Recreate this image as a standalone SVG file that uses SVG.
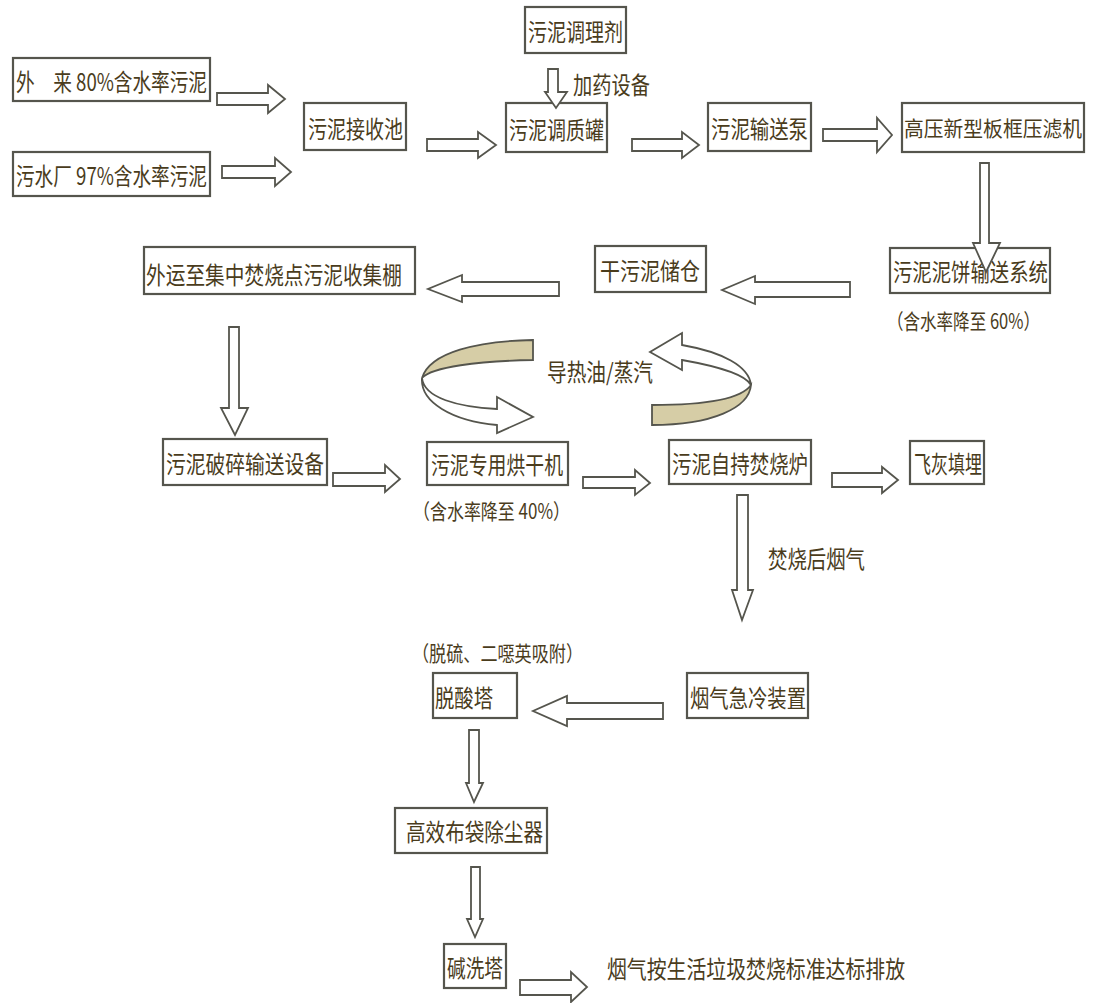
<svg xmlns="http://www.w3.org/2000/svg" width="1096" height="1003" viewBox="0 0 1096 1003">
<style>
.box{fill:#ffffff;stroke:#55554d;stroke-width:2.2}
.t{font-family:"Noto Sans CJK SC","Liberation Serif",serif;font-size:24px;fill:#4a3c1c;dominant-baseline:central}
.s{font-size:21px}
.arr{fill:#ffffff;stroke:#55554d;stroke-width:1.8;stroke-linejoin:miter}
.rib{fill:#d6cda6;stroke:#55554d;stroke-width:1.8}
</style>
<rect width="1096" height="1003" fill="#ffffff"/>
<g id="nodes">
<g id="n-wailai"><rect class="box" x="13" y="58" width="197" height="43"/><text class="t" x="16" y="80" textLength="191" lengthAdjust="spacingAndGlyphs">外　来 80%含水率污泥</text></g>
<g id="n-wushuichang"><rect class="box" x="13" y="152" width="197" height="44"/><text class="t" x="16" y="174" textLength="191" lengthAdjust="spacingAndGlyphs">污水厂 97%含水率污泥</text></g>
<g id="n-jieshouchi"><rect class="box" x="304" y="103" width="102" height="47"/><text class="t" x="308" y="127" textLength="95" lengthAdjust="spacingAndGlyphs">污泥接收池</text></g>
<g id="n-tiaoliji"><rect class="box" x="525" y="7" width="101" height="46"/><text class="t" x="528" y="30" textLength="95" lengthAdjust="spacingAndGlyphs">污泥调理剂</text></g>
<g id="n-tiaozhiguan"><rect class="box" x="506" y="103" width="101" height="49"/><text class="t" x="509" y="128" textLength="95" lengthAdjust="spacingAndGlyphs">污泥调质罐</text></g>
<g id="n-shusongbeng"><rect class="box" x="708" y="103" width="103" height="48"/><text class="t" x="711" y="127" textLength="97" lengthAdjust="spacingAndGlyphs">污泥输送泵</text></g>
<g id="n-yalvji"><rect class="box" x="902" y="103" width="182" height="49"/><text class="t s" x="904" y="127" textLength="178" lengthAdjust="spacingAndGlyphs">高压新型板框压滤机</text></g>
<g id="n-nibing"><rect class="box" x="890" y="248" width="160" height="45"/><text class="t" x="893" y="270" textLength="155" lengthAdjust="spacingAndGlyphs">污泥泥饼输送系统</text></g>
<g id="n-ganwunicang"><rect class="box" x="595" y="246" width="111" height="46"/><text class="t" x="600" y="269" textLength="100" lengthAdjust="spacingAndGlyphs">干污泥储仓</text></g>
<g id="n-shoujipeng"><rect class="box" x="144" y="247" width="271" height="47"/><text class="t" x="146" y="273" textLength="256" lengthAdjust="spacingAndGlyphs">外运至集中焚烧点污泥收集棚</text></g>
<g id="n-posui"><rect class="box" x="163" y="439" width="164" height="46"/><text class="t" x="166" y="462" textLength="158" lengthAdjust="spacingAndGlyphs">污泥破碎输送设备</text></g>
<g id="n-honggan"><rect class="box" x="427" y="442" width="141" height="43"/><text class="t" x="431" y="463" textLength="132" lengthAdjust="spacingAndGlyphs">污泥专用烘干机</text></g>
<g id="n-fenshaolu"><rect class="box" x="669" y="440" width="142" height="44"/><text class="t" x="672" y="462" textLength="136" lengthAdjust="spacingAndGlyphs">污泥自持焚烧炉</text></g>
<g id="n-feihui"><rect class="box" x="910" y="441" width="74" height="43"/><text class="t" x="914" y="462" textLength="68" lengthAdjust="spacingAndGlyphs">飞灰填埋</text></g>
<g id="n-jileng"><rect class="box" x="687" y="673" width="121" height="45"/><text class="t" x="690" y="696" textLength="116" lengthAdjust="spacingAndGlyphs">烟气急冷装置</text></g>
<g id="n-tuosuanta"><rect class="box" x="433" y="673" width="84" height="45"/><text class="t" x="435" y="696" textLength="58" lengthAdjust="spacingAndGlyphs">脱酸塔</text></g>
<g id="n-budai"><rect class="box" x="395" y="808" width="152" height="45"/><text class="t" x="406" y="830" textLength="137" lengthAdjust="spacingAndGlyphs">高效布袋除尘器</text></g>
<g id="n-jianxi"><rect class="box" x="444" y="944" width="62" height="44"/><text class="t" x="447" y="966" textLength="56" lengthAdjust="spacingAndGlyphs">碱洗塔</text></g>
</g>
<g id="labels">
<text class="t" x="573" y="83" textLength="77" lengthAdjust="spacingAndGlyphs">加药设备</text>
<text class="t s" x="887" y="320" textLength="153" lengthAdjust="spacingAndGlyphs">（含水率降至 60%）</text>
<text class="t" x="547" y="370" textLength="106" lengthAdjust="spacingAndGlyphs">导热油/蒸汽</text>
<text class="t s" x="413" y="510" textLength="157" lengthAdjust="spacingAndGlyphs">（含水率降至 40%）</text>
<text class="t" x="768" y="557" textLength="97" lengthAdjust="spacingAndGlyphs">焚烧后烟气</text>
<text class="t s" x="412" y="652" textLength="171" lengthAdjust="spacingAndGlyphs">（脱硫、二噁英吸附）</text>
<text class="t" x="607" y="967" textLength="298" lengthAdjust="spacingAndGlyphs">烟气按生活垃圾焚烧标准达标排放</text>
</g>
<g id="connectors">
<path class="arr" d="M217,93 H268 V85 L285,99 L268,113 V105 H217 Z"/>
<path class="arr" d="M222,166 H275 V158 L291,172 L275,186 V178 H222 Z"/>
<path class="arr" d="M427,139 H478 V132 L496,145 L478,158 V151 H427 Z"/>
<path class="arr" d="M632,139 H682 V132 L699,145 L682,158 V151 H632 Z"/>
<path class="arr" d="M823,129 H877 V118 L892,135 L877,152 V141 H823 Z"/>
<path class="arr" d="M548,69 H558 V92 H567 L556,108 L545,92 H548 Z"/>
<path class="arr" d="M980,163 H989 V243 H1000 L986,272 L973,243 H980 Z"/>
<path class="arr" d="M850,282 H755 V276 L722,290 L755,304 V297 H850 Z"/>
<path class="arr" d="M559,282 H462 V275 L428,289 L462,302 V296 H559 Z"/>
<path class="arr" d="M229,327 H239 V408 H248 L235,435 L221,408 H229 Z"/>
<path class="arr" d="M333,473 H385 V465 L400,479 L385,492 V486 H333 Z"/>
<path class="arr" d="M583,477 H635 V470 L650,483 L635,495 V488 H583 Z"/>
<path class="arr" d="M832,473 H882 V467 L898,480 L882,493 V487 H832 Z"/>
<path class="arr" d="M737,495 H748 V590 H753 L742,620 L732,590 H737 Z"/>
<path class="arr" d="M663,703 H567 V696 L533,711 L567,726 V719 H663 Z"/>
<path class="arr" d="M469,730 H479 V783 H483 L474,802 L466,783 H469 Z"/>
<path class="arr" d="M471,867 H480 V919 H483 L475,937 L467,919 H471 Z"/>
<path class="arr" d="M520,980 H571 V972 L587,987 L571,1002 V995 H520 Z"/>
<path class="rib" d="M533,340 C478,341 430,352 422,378 C432,367 478,361 533,360 Z"/>
<path class="arr" d="M422,378 C424,398 458,407 497,409 V397 L533,417 L497,433 V425 C452,421 420,402 422,378 Z"/>
<path class="rib" d="M652,405 C708,405 742,398 751,385 C749,408 712,425 652,425 Z"/>
<path class="arr" d="M751,385 C749,366 722,352 682,345 V333 L650,352 L682,370 V360 C716,366 745,374 751,385 Z"/>
</g>
</svg>
